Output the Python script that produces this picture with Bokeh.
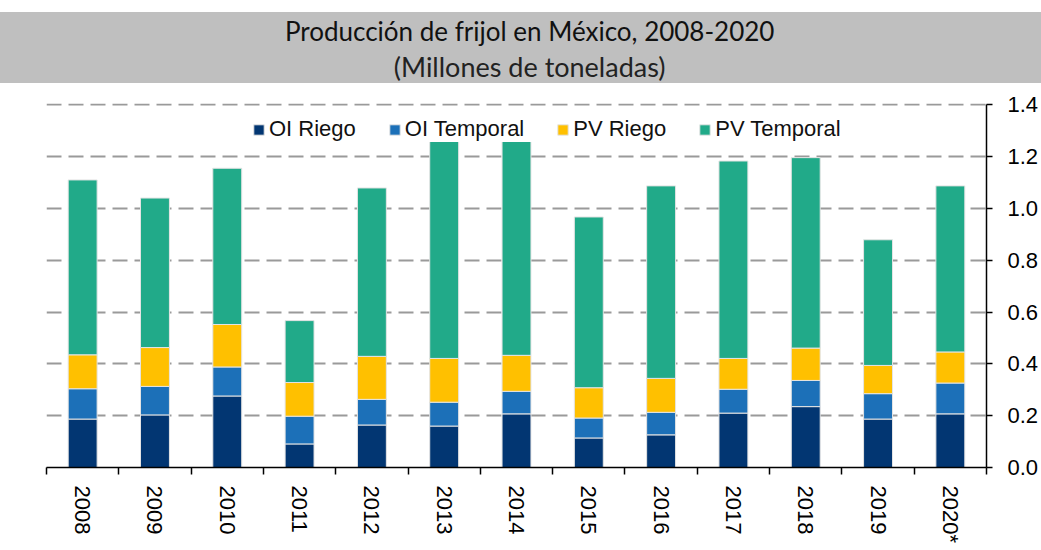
from bokeh.plotting import figure
from bokeh.models import Range1d, FixedTicker, NumeralTickFormatter, ColumnDataSource, Spacer
from bokeh.layouts import column
from bokeh.core.properties import value
from bokeh.embed import file_html
from bokeh.resources import INLINE

# ---- data (millones de toneladas) ----
years = ["2008", "2009", "2010", "2011", "2012", "2013", "2014",
         "2015", "2016", "2017", "2018", "2019", "2020*"]
oi_riego = [0.187, 0.203, 0.276, 0.091, 0.164, 0.160, 0.207,
            0.114, 0.126, 0.210, 0.235, 0.187, 0.207]
oi_temporal = [0.117, 0.110, 0.112, 0.107, 0.099, 0.092, 0.087,
               0.077, 0.087, 0.092, 0.101, 0.098, 0.119]
pv_riego = [0.131, 0.150, 0.164, 0.130, 0.166, 0.169, 0.139,
            0.117, 0.131, 0.119, 0.125, 0.109, 0.120]
pv_temporal = [0.675, 0.577, 0.603, 0.239, 0.650, 0.873, 0.840,
               0.659, 0.743, 0.762, 0.735, 0.485, 0.641]
series_labels = ["OI Riego", "OI Temporal", "PV Riego", "PV Temporal"]
series_colors = ["#023672", "#1C70B8", "#FFC000", "#21AA89"]
y_ticks = [0.0, 0.2, 0.4, 0.6, 0.8, 1.0, 1.2, 1.4]
title_text = "Producción de frijol en México, 2008-2020"
subtitle_text = "(Millones de toneladas)"

# ---- build ----
centers = [i + 0.5 for i in range(len(years))]
boundaries = list(range(len(years) + 1))
keys = ["oi_riego", "oi_temporal", "pv_riego", "pv_temporal"]
src = ColumnDataSource(dict(x=centers, oi_riego=oi_riego, oi_temporal=oi_temporal,
                            pv_riego=pv_riego, pv_temporal=pv_temporal))

W = 1041
GREY = "#BFBFBF"

# title band
t = figure(width=W, height=71, x_range=Range1d(0, 1), y_range=Range1d(0, 1),
           output_backend="svg", toolbar_location=None,
           x_axis_type=None, y_axis_type=None,
           min_border_top=0, min_border_left=0, min_border_right=0, min_border_bottom=0,
           background_fill_color=GREY, border_fill_color=GREY,
           outline_line_color=None, styles={"background-color": GREY})
t.grid.visible = False
t.text(x=[0.514], y=[0.735], text=[title_text],
       text_align="center", text_baseline="middle",
       text_font=value("Lato"), text_font_size="26px", text_color="#111111")
t.text(x=[0.514], y=[0.245], text=[subtitle_text],
       text_align="center", text_baseline="middle",
       text_font=value("Lato"), text_font_size="27px", text_color="#222222")

# main chart
p = figure(width=W, height=467, x_range=Range1d(0, len(years)),
           y_range=Range1d(0, 1.405), y_axis_location="right",
           output_backend="svg", toolbar_location=None,
           min_border_left=46, min_border_top=20, min_border_bottom=83,
           min_border_right=0, outline_line_color=None)

p.vbar_stack(keys, x="x", width=0.4, source=src, color=series_colors,
             line_color="#e4e4e4", line_width=1, legend_label=series_labels)

p.xgrid.visible = False
p.ygrid.grid_line_color = "#9a9a9a"
p.ygrid.grid_line_dash = "15 7"
p.ygrid.grid_line_width = 2

# x axis: labels at centers, ticks at boundaries
p.xaxis.ticker = FixedTicker(ticks=centers, minor_ticks=boundaries)
p.xaxis.major_label_overrides = {c: y for c, y in zip(centers, years)}
p.xaxis.major_tick_line_color = None
p.xaxis.minor_tick_line_color = "black"
p.xaxis.minor_tick_out = 7
p.xaxis.minor_tick_in = 0
p.xaxis.minor_tick_line_width = 1.5
p.xaxis.axis_line_color = "black"
p.xaxis.axis_line_width = 1.5
p.xaxis.major_label_orientation = "vertical"
p.xaxis.major_label_standoff = 11
p.xaxis.major_label_text_font = "Liberation Sans"
p.xaxis.major_label_text_font_size = "22px"
p.xaxis.major_label_text_color = "black"

# y axis on the right
p.yaxis.ticker = FixedTicker(ticks=y_ticks)
p.yaxis.bounds = (0, 1.4)
p.yaxis.formatter = NumeralTickFormatter(format="0.0")
p.yaxis.axis_line_color = "black"
p.yaxis.axis_line_width = 1.5
p.yaxis.major_tick_line_color = "black"
p.yaxis.major_tick_line_width = 1.5
p.yaxis.major_tick_out = 6
p.yaxis.major_tick_in = 0
p.yaxis.minor_tick_line_color = None
p.yaxis.major_label_standoff = 15
p.yaxis.major_label_text_font = "Liberation Sans"
p.yaxis.major_label_text_font_size = "22px"
p.yaxis.major_label_text_color = "black"

# legend
lg = p.legend[0]
lg.orientation = "horizontal"
lg.location = (206, 325)
lg.margin = 0
lg.padding = 4
lg.spacing = 32
lg.label_standoff = 4
lg.glyph_width = 13
lg.glyph_height = 13
lg.label_text_font = "Liberation Sans"
lg.label_text_font_size = "22px"
lg.label_text_color = "#111111"
lg.background_fill_color = "white"
lg.background_fill_alpha = 1.0
lg.border_line_color = None

layout = column(Spacer(width=W, height=12), t, p)
open("out.html", "w").write(file_html(layout, INLINE))
